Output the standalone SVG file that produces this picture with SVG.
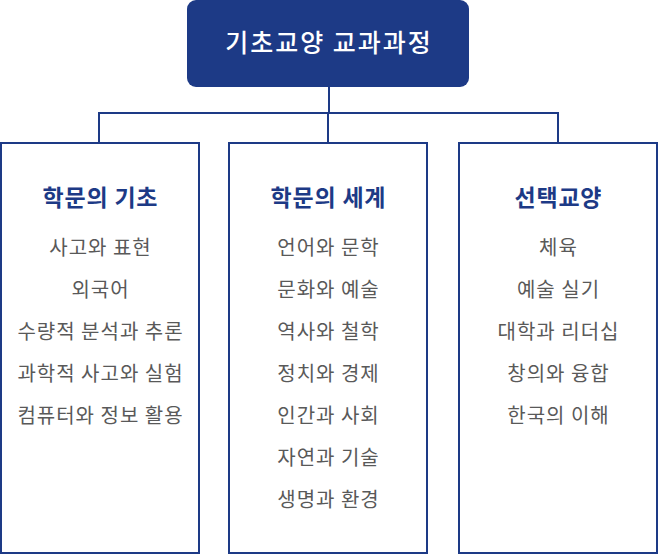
<svg xmlns="http://www.w3.org/2000/svg" width="658" height="554" viewBox="0 0 658 554">
<style>
.box{fill:#fff;stroke:#1d3a86;stroke-width:2}
.line{fill:none;stroke:#1d3a86;stroke-width:2}
text{font-family:"Noto Sans CJK KR","Noto Sans",sans-serif;text-anchor:middle}
.title{fill:#fff;font-size:25px;font-weight:500;letter-spacing:2px}
.head{fill:#1d3a86;font-size:23px;font-weight:700;letter-spacing:0.8px}
.item{fill:#595959;font-size:20px;letter-spacing:1px}
</style>
<g id="connectors">
<path class="line" d="M329 87V113M99 143V113H558V143M328 113V143"/>
</g>
<g id="root">
<rect x="187" y="0" width="282" height="87" rx="9" fill="#1d3a86"/>
<text class="title" x="329" y="52">기초교양 교과과정</text>
</g>
<g id="basics">
<rect class="box" x="1" y="143" width="198" height="410"/>
<text class="head" x="100.4" y="205.5">학문의 기초</text>
<text class="item" x="100.5" y="254.5">사고와 표현</text>
<text class="item" x="100.5" y="297">외국어</text>
<text class="item" x="100.5" y="339">수량적 분석과 추론</text>
<text class="item" x="100.5" y="381">과학적 사고와 실험</text>
<text class="item" x="100.5" y="423">컴퓨터와 정보 활용</text>
</g>
<g id="world">
<rect class="box" x="229" y="143" width="198" height="410"/>
<text class="head" x="328.4" y="205.5">학문의 세계</text>
<text class="item" x="328.5" y="254.5">언어와 문학</text>
<text class="item" x="328.5" y="297">문화와 예술</text>
<text class="item" x="328.5" y="339">역사와 철학</text>
<text class="item" x="328.5" y="381">정치와 경제</text>
<text class="item" x="328.5" y="423">인간과 사회</text>
<text class="item" x="328.5" y="465">자연과 기술</text>
<text class="item" x="328.5" y="507">생명과 환경</text>
</g>
<g id="elective">
<rect class="box" x="459" y="143" width="198" height="410"/>
<text class="head" x="558.4" y="205.5">선택교양</text>
<text class="item" x="558.5" y="254.5">체육</text>
<text class="item" x="558.5" y="297">예술 실기</text>
<text class="item" x="558.5" y="339">대학과 리더십</text>
<text class="item" x="558.5" y="381">창의와 융합</text>
<text class="item" x="558.5" y="423">한국의 이해</text>
</g>
</svg>
